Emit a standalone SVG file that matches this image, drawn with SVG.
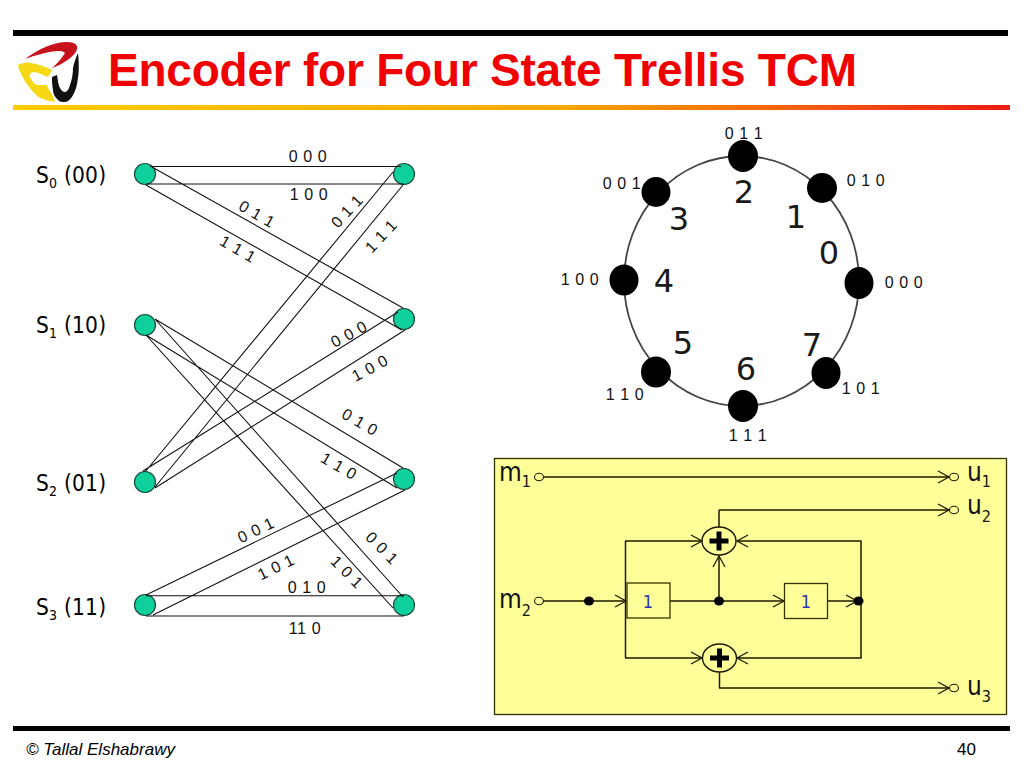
<svg xmlns="http://www.w3.org/2000/svg" width="1024" height="768" viewBox="0 0 1024 768">
<defs>
<linearGradient id="rule" x1="0" x2="1" y1="0" y2="0"><stop offset="0" stop-color="#ffcc00"/><stop offset="0.55" stop-color="#fba800"/><stop offset="1" stop-color="#ee1a10"/></linearGradient>
<marker id="arr" markerUnits="userSpaceOnUse" markerWidth="14" markerHeight="14" refX="12" refY="7" orient="auto"><path d="M1 1L12 7L1 13" fill="none" stroke="#1a1a00" stroke-width="1.3"/></marker>
</defs>
<style>
text{font-family:"Liberation Sans",Arial,sans-serif;fill:#000}
.bit{font-size:16px;letter-spacing:.6px;text-anchor:middle;fill:#111}
.st{font-size:22.500px;letter-spacing:.2px;font-family:"DejaVu Sans Condensed","DejaVu Sans",sans-serif}
.sub{font-size:14px}
.tn{stroke:#111;stroke-width:1.1;fill:none}
.tnode{fill:#0dd09a;stroke:#1b4a3a;stroke-width:1.2}
.pt{fill:#000}
.num{font-family:"DejaVu Sans",sans-serif;font-size:32px;text-anchor:middle;fill:#1a1a1a}
.wire{stroke:#1a1a00;stroke-width:1.5;fill:none}
.wa{stroke:#1a1a00;stroke-width:1.5;fill:none;marker-end:url(#arr)}
.term{fill:#ffff99;stroke:#1a1a00;stroke-width:1.1}
.xor{fill:#ffff99;stroke:#1a1a00;stroke-width:1.4}
.plus{stroke:#000;stroke-width:5;fill:none}
.reg{fill:#ffff99;stroke:#333300;stroke-width:1.3}
.lab{font-family:"DejaVu Sans Condensed","DejaVu Sans",sans-serif;font-size:26px;fill:#111}
.labs{font-family:"DejaVu Sans Condensed","DejaVu Sans",sans-serif;font-size:16px;fill:#111}
.rn{font-family:"DejaVu Sans Condensed","DejaVu Sans",sans-serif;font-size:18px;fill:#3030b0;text-anchor:middle}
</style>
<rect width="1024" height="768" fill="#fff"/>
<g id="header">
<rect x="13" y="30" width="995" height="6" fill="#000"/>
<rect x="13" y="105" width="997" height="5" fill="url(#rule)"/>
<text x="108" y="86" font-size="46" font-weight="700" textLength="749" lengthAdjust="spacing" style="fill:#f00000">Encoder for Four State Trellis TCM</text>
</g>
<g id="logo">
<path d="M25 59C38 49 54 42 67 42C75 42 78 45 77 49C76 55 64 64 52 68C56 65 62 58 65 53C63 51 60 51 57 51C47 52 35 55 25 59Z" fill="#c8101c"/>
<path d="M18 65C22 63 27 62 30 63C38 64 46 67 52 70L48 77C43 75 38 72 33 72C30 73 29 75 30 77C32 81 34 84 37 85L47 85C48 89 50 92 52 94L55 102C50 101 45 100 40 98C32 93 20 76 18 65Z" fill="#f6d914"/>
<path d="M78 53C79 62 79 72 78 78C77 85 76 90 73 95C71 99 68 102 65 102C62 102 60 102 58 100C55 97 53 94 53 90C52 85 52 81 52 77L57 75C58 80 58 85 60 88C62 91 63 92 65 92C67 92 69 89 70 85C72 79 73 74 73 68C74 63 76 57 78 53Z" fill="#111"/>
</g>
<g id="s00"><circle class="tnode" cx="145" cy="174" r="10.5"/><text class="st" x="36" y="183">S<tspan class="sub" dy="5">0</tspan><tspan dy="-5"> (00)</tspan></text></g>
<g id="s10"><circle class="tnode" cx="145" cy="325" r="10.5"/><text class="st" x="36" y="333">S<tspan class="sub" dy="5">1</tspan><tspan dy="-5"> (10)</tspan></text></g>
<g id="s01"><circle class="tnode" cx="145" cy="482" r="10.5"/><text class="st" x="36" y="491">S<tspan class="sub" dy="5">2</tspan><tspan dy="-5"> (01)</tspan></text></g>
<g id="s11"><circle class="tnode" cx="145" cy="605" r="10.5"/><text class="st" x="36" y="615">S<tspan class="sub" dy="5">3</tspan><tspan dy="-5"> (11)</tspan></text></g>
<g id="t0"><circle class="tnode" cx="404" cy="174" r="10.5"/></g>
<g id="t1"><circle class="tnode" cx="404" cy="319" r="10.5"/></g>
<g id="t2"><circle class="tnode" cx="404" cy="479" r="10.5"/></g>
<g id="t3"><circle class="tnode" cx="404" cy="605" r="10.5"/></g>
<g id="connectors">
<path class="tn" d="M150 166.500H401M146 184H404M152 167L403 308M146 185L402 330"/>
<path class="tn" d="M145 472L393 172M155 487L403 185M143 471L398 312M155 488L405 330"/>
<path class="tn" d="M155 319L403 468M146 335L397 488M155 319L403 597M146 335L393 608"/>
<path class="tn" d="M146 595L397 473M153 615L405 490M146 595.700H404M146 616H404"/>
</g>
<g id="trellis-labels">
<text class="bit" x="308" y="161.600">0 0 0</text>
<text class="bit" x="309" y="199.600">1 0 0</text>
<text class="bit" transform="translate(257 214) rotate(30) translate(0 5.600)">0 1 1</text>
<text class="bit" transform="translate(238 249) rotate(30) translate(0 5.600)">1 1 1</text>
<text class="bit" transform="translate(347 211) rotate(-47) translate(0 5.600)">0 1 1</text>
<text class="bit" transform="translate(381 236) rotate(-47) translate(0 5.600)">1 1 1</text>
<text class="bit" transform="translate(349 334) rotate(-28) translate(0 5.600)">0 0 0</text>
<text class="bit" transform="translate(370 368) rotate(-28) translate(0 5.600)">1 0 0</text>
<text class="bit" transform="translate(360 422) rotate(30) translate(0 5.600)">0 1 0</text>
<text class="bit" transform="translate(339 466) rotate(30) translate(0 5.600)">1 1 0</text>
<text class="bit" transform="translate(256 530) rotate(-26) translate(0 5.600)">0 0 1</text>
<text class="bit" transform="translate(276 567) rotate(-26) translate(0 5.600)">1 0 1</text>
<text class="bit" transform="translate(382 548) rotate(45) translate(0 5.600)">0 0 1</text>
<text class="bit" transform="translate(347 572) rotate(45) translate(0 5.600)">1 0 1</text>
<text class="bit" x="307" y="592.600">0 1 0</text>
<text class="bit" x="305" y="633.600">11 0</text>
</g>
<g id="circle-diagram">
<ellipse cx="741.500" cy="281" rx="117.500" ry="125" fill="none" stroke="#444" stroke-width="1.800"/>
<ellipse class="pt" cx="743" cy="156" rx="15" ry="16"/><ellipse class="pt" cx="822" cy="188" rx="15" ry="15"/><ellipse class="pt" cx="859" cy="283" rx="14.500" ry="16"/><ellipse class="pt" cx="826" cy="373" rx="14.500" ry="16"/><ellipse class="pt" cx="743" cy="406" rx="15" ry="16"/><ellipse class="pt" cx="656" cy="372" rx="15" ry="15.500"/><ellipse class="pt" cx="624" cy="280" rx="14.500" ry="15.500"/><ellipse class="pt" cx="656" cy="192" rx="14.500" ry="15"/>
<text class="num" x="744" y="203">2</text><text class="num" x="796" y="228">1</text><text class="num" x="829" y="264">0</text><text class="num" x="679" y="230">3</text><text class="num" x="664" y="292">4</text><text class="num" x="683" y="354">5</text><text class="num" x="746" y="380">6</text><text class="num" x="812" y="356">7</text>
<text class="bit" x="744" y="138.600">0 1 1</text><text class="bit" x="866" y="185.600">0 1 0</text><text class="bit" x="904" y="287.600">0 0 0</text><text class="bit" x="861" y="393.600">1 0 1</text><text class="bit" x="748" y="440.600">1 1 1</text><text class="bit" x="625" y="399.600">1 1 0</text><text class="bit" x="580" y="284.600">1 0 0</text><text class="bit" x="622" y="188.600">0 0 1</text>
</g>
<g id="encoder">
<rect x="494.500" y="458.500" width="512" height="256" fill="#ffff99" stroke="#333300" stroke-width="1.300"/>
<g id="enc-wires">
<path class="wa" d="M543 477H949"/>
<path class="wire" d="M719 527V510"/><path class="wa" d="M719 510H949"/>
<path class="wa" d="M543 601H626"/>
<path class="wire" d="M625.500 601V541"/><path class="wa" d="M625 541H702"/>
<path class="wire" d="M625.500 601V658"/><path class="wa" d="M625 658H702"/>
<path class="wire" d="M670 601H719"/><path class="wa" d="M719 601V556"/><path class="wa" d="M719 601H784"/>
<path class="wa" d="M828 601H857"/>
<path class="wire" d="M861 601V541"/><path class="wa" d="M861.500 541H737"/>
<path class="wire" d="M861 601V658"/><path class="wa" d="M861.500 658H737"/>
<path class="wire" d="M719.500 672V688"/><path class="wa" d="M719 688H949"/>
</g>
<ellipse class="pt" cx="589" cy="601" rx="5" ry="4.500"/><ellipse class="pt" cx="719" cy="601" rx="5" ry="4.500"/><ellipse class="pt" cx="858.500" cy="601" rx="5" ry="4.500"/>
<g id="xor1"><ellipse class="xor" cx="719" cy="541" rx="17" ry="14"/><path class="plus" d="M719 531.500V550.500M709.500 541H728.500"/></g>
<g id="xor2"><ellipse class="xor" cx="719.500" cy="658" rx="17" ry="14"/><path class="plus" d="M719.500 648.500V667.500M710 658H729"/></g>
<g id="reg1"><rect class="reg" x="627" y="583" width="43" height="35"/><text class="rn" x="648" y="608">1</text></g>
<g id="reg2"><rect class="reg" x="784.500" y="583.500" width="43" height="35"/><text class="rn" x="806" y="608">1</text></g>
<g id="m1"><ellipse class="term" cx="539" cy="477" rx="4.500" ry="3.700"/><text class="lab" x="499" y="481">m<tspan class="labs" dy="6">1</tspan></text></g>
<g id="m2"><ellipse class="term" cx="539" cy="601" rx="4.500" ry="3.700"/><text class="lab" x="499" y="608">m<tspan class="labs" dy="8">2</tspan></text></g>
<g id="u1"><ellipse class="term" cx="954" cy="477" rx="4.500" ry="3.700"/><text class="lab" x="967" y="481">u<tspan class="labs" dy="6">1</tspan></text></g>
<g id="u2"><ellipse class="term" cx="954" cy="510" rx="4.500" ry="3.700"/><text class="lab" x="967" y="514">u<tspan class="labs" dy="8">2</tspan></text></g>
<g id="u3"><ellipse class="term" cx="954" cy="688" rx="4.500" ry="3.700"/><text class="lab" x="967" y="695">u<tspan class="labs" dy="7">3</tspan></text></g>
</g>
<g id="footer">
<rect x="13" y="726" width="997" height="5" fill="#000"/>
<text x="26" y="755" font-size="17" font-style="italic">© Tallal Elshabrawy</text>
<text x="957" y="755" font-size="17">40</text>
</g>
</svg>
